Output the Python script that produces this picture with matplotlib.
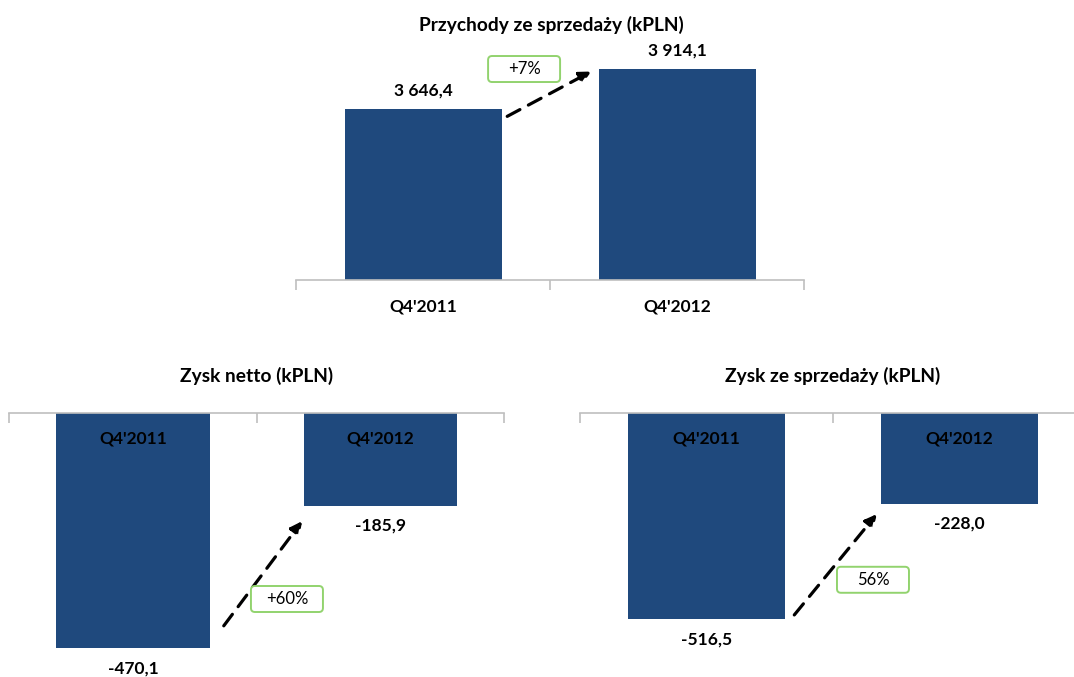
from matplotlib import pyplot as plt
from matplotlib.patches import FancyArrowPatch, FancyBboxPatch
from matplotlib.transforms import IdentityTransform

# dane
kwartaly = ["Q4'2011", "Q4'2012"]
przychody = [3646.4, 3914.1]
zysk_netto = [-470.1, -185.9]
zysk_sprzedaz = [-516.5, -228.0]
etykiety_zmiany = ['+7%', '+60%', '56%']

plt.rcParams['font.family'] = ['Lato', 'DejaVu Sans']

W, H = 1074, 677
kolor = '#1F497D'
szary = '#BFBFBF'
ziel = '#92D36E'

fig = plt.figure(figsize=(W / 100, H / 100), dpi=100)


def osie_px(l, t, r, b):
    return fig.add_axes([l / W, 1 - b / H, (r - l) / W, (b - t) / H])


def fmt(v):
    return f'{v:,.1f}'.replace(',', ' ').replace('.', ',')


def styl(ax, gora):
    for s in ax.spines.values():
        s.set_visible(False)
    sp = ax.spines['top'] if gora else ax.spines['bottom']
    sp.set_visible(True)
    sp.set_color(szary)
    sp.set_linewidth(1.2)
    ax.set_xlim(-0.5, 1.5)
    ax.set_yticks([])
    ax.set_xticks([])
    ax.set_xticks([-0.5, 0.5, 1.5], minor=True)
    if gora:
        ax.tick_params(axis='x', which='minor', top=True, bottom=False, direction='in',
                       length=7, color=szary, width=1.2, labeltop=False)
    else:
        ax.tick_params(axis='x', which='minor', direction='out', length=7,
                       color=szary, width=1.2, labelbottom=False)
    ax.patch.set_alpha(0)


def strzalka(ax, p0, p1):
    a = FancyArrowPatch(p0, p1, arrowstyle='-|>', mutation_scale=17, color='black',
                        linestyle=(0, (4.5, 3)), linewidth=2.3, clip_on=False, zorder=2)
    ax.add_patch(a)


def ramka(ax, x, y, txt):
    cx, cy = ax.transData.transform((x, y))
    ax.add_patch(FancyBboxPatch((cx - 36, cy - 13), 72, 26, boxstyle='round,pad=0,rounding_size=4',
                                fc='white', ec=ziel, lw=1.4, transform=IdentityTransform(),
                                clip_on=False, zorder=4))
    ax.text(x, y, txt, ha='center', va='center', fontsize=12, clip_on=False, zorder=5)


# --- przychody ---
ax1 = osie_px(296.5, 20, 804.5, 280)
ax1.bar([0, 1], [v - 2500 for v in przychody], bottom=2500, width=0.62, color=kolor)
ax1.set_ylim(2500, 4240)
styl(ax1, False)
for i, v in enumerate(przychody):
    ax1.annotate(fmt(v), (i, v), xytext=(0, 18), textcoords='offset pixels',
                 ha='center', va='center', fontsize=12.5, fontweight='bold')
    ax1.annotate(kwartaly[i], (i, 2500), xytext=(0, -26), textcoords='offset pixels',
                 ha='center', va='center', fontsize=12.5, fontweight='bold', annotation_clip=False)
strzalka(ax1, (0.32, przychody[0] - 60), (0.67, przychody[1] - 10))
ramka(ax1, 0.396, 3912, etykiety_zmiany[0])
fig.text(551 / W, 1 - 25 / H, 'Przychody ze sprzedaży (kPLN)', ha='center', va='center',
         fontsize=13.8, fontweight='bold')


def dolny(l, r, skala, dane, tytul, tx, p0, p1, rx, ry, etk):
    ax = osie_px(l, 413, r, 677)
    ax.bar([0, 1], dane, width=0.62, color=kolor)
    ax.set_ylim(-264 / skala, 0)
    styl(ax, True)
    for i, v in enumerate(dane):
        ax.annotate(fmt(v), (i, v), xytext=(0, -20), textcoords='offset pixels',
                    ha='center', va='center', fontsize=12.5, fontweight='bold', annotation_clip=False)
        ax.annotate(kwartaly[i], (i, 0), xytext=(0, -26), textcoords='offset pixels',
                    ha='center', va='center', fontsize=12.5, fontweight='bold')
    strzalka(ax, p0, p1)
    ramka(ax, rx, ry, etk)
    fig.text(tx / W, 1 - 376 / H, tytul, ha='center', va='center', fontsize=13.8, fontweight='bold')
    return ax


dolny(9.25, 504.25, 0.5, zysk_netto, 'Zysk netto (kPLN)', 257,
      (0.36, zysk_netto[0] + 40), (0.69, zysk_netto[1] - 26), 0.622, -372, etykiety_zmiany[1])
dolny(580, 1086, 0.399, zysk_sprzedaz, 'Zysk ze sprzedaży (kPLN)', 833,
      (0.34, zysk_sprzedaz[0] + 5), (0.68, zysk_sprzedaz[1] - 20), 0.658, -418, etykiety_zmiany[2])

fig.savefig('out.png', dpi=100)
